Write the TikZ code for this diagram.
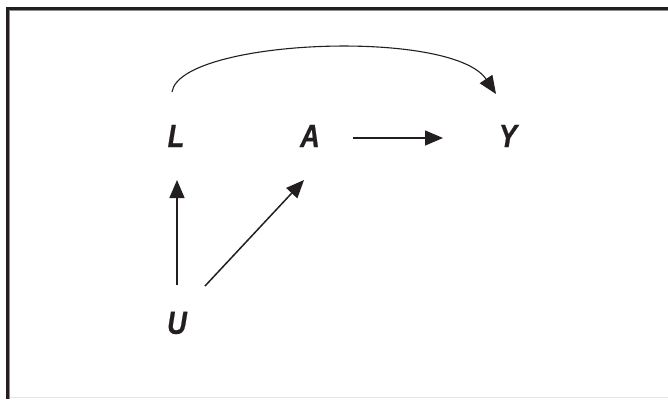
\documentclass[tikz,border=0pt]{standalone}
\usepackage{fontspec}
\setmainfont{Liberation Sans}
\newfontfamily\varfont[FakeStretch=0.85,FakeBold=0.6]{Liberation Sans}
\usetikzlibrary{arrows.meta,calc}
\definecolor{ink}{HTML}{231F20}
\tikzset{
  var/.style={inner sep=0pt, text=ink, font=\varfont\bfseries\itshape\fontsize{32}{32}\selectfont},
  arr/.style={draw=ink, line width=1.5pt, -{Triangle[length=18pt,width=15pt]}},
  curvearr/.style={draw=ink, line width=1.1pt, -{Triangle[length=18pt,width=15pt]}},
}
\begin{document}
\begin{tikzpicture}[x=1pt,y=-1pt]
  \useasboundingbox (0,0) rectangle (668,399);
  % frame: heavy top and left rule, faint bottom rule
  \draw[line width=2.5pt, ink] (668,8.5) -- (7.5,8.5) -- (7.5,399);
  \draw[line width=1pt, black!45] (668,10.5) -- (9.5,10.5) -- (9.5,399);
  \draw[line width=1pt, black!10] (10,397) -- (668,397);

  % variables
  \node[var] (L) at (176,136) {L};
  \node[var] (A) at (310,136) {A};
  \node[var] (Y) at (508,136) {Y};
  \node[var] (U) at (177,323) {U};

  % edges
  \draw[arr] ($(A)+(43,2)$) -- ($(Y)+(-65,2)$);
  \draw[arr] ($(U)+(0,-38)$) -- ($(L)+(1,44)$);
  \draw[arr] ($(U)+(28,-37)$) -- ($(A)+(-6,44)$);
  \draw[curvearr] ($(L)+(-4,-44)$) .. controls ($(L)+(4,-97)$) and ($(Y)+(-56,-108)$) .. ($(Y)+(-12,-42)$);
\end{tikzpicture}
\end{document}
